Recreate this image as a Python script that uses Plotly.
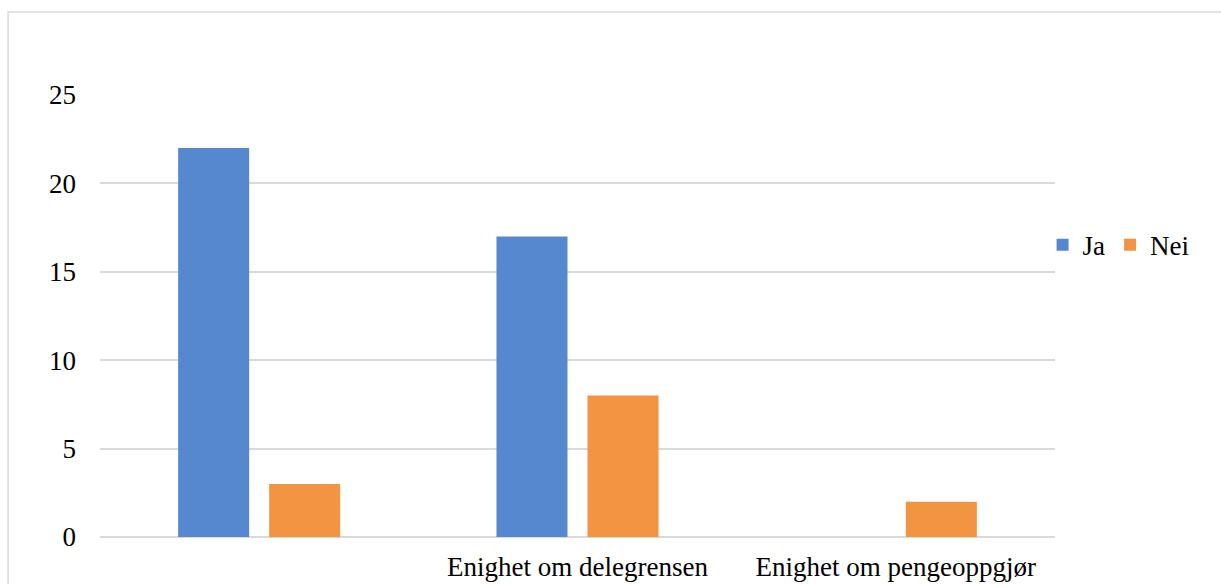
import plotly.graph_objects as go

categories = ["", "Enighet om delegrensen", "Enighet om pengeoppgjør"]
ja_values = [22, 17, 0]
nei_values = [3, 8, 2]
y_ticks = [0, 5, 10, 15, 20, 25]

FONT = "Times New Roman"

fig = go.Figure()
fig.add_trace(go.Bar(name="Ja", x=categories, y=ja_values,
                     marker=dict(color="#5688D0", line=dict(width=0))))
fig.add_trace(go.Bar(name="Nei", x=categories, y=nei_values,
                     marker=dict(color="#F29441", line=dict(width=0))))

# outer chart frame
fig.add_shape(type="rect", xref="paper", yref="paper",
              x0=-0.0963, x1=1.2, y0=-0.2, y1=1.1878,
              line=dict(color="#d9d9d9", width=1.5), fillcolor="rgba(0,0,0,0)",
              layer="below")

fig.update_layout(
    width=1221, height=584,
    margin=dict(l=100, r=166, t=95, b=47),
    plot_bgcolor="white", paper_bgcolor="white",
    barmode="group", bargap=0.428, bargroupgap=0.22,
    font=dict(family=FONT, size=27, color="#000000"),
    showlegend=True,
    legend=dict(orientation="h", x=0.987, y=0.66, xanchor="left", yanchor="middle",
                font=dict(family=FONT, size=27), itemwidth=30,
                itemsizing="constant", tracegroupgap=0),
    xaxis=dict(showgrid=False, showline=False, ticks="", ticklabelstandoff=11,
               automargin=False, tickfont=dict(family=FONT, size=27)),
    yaxis=dict(range=[0, 25], tickvals=y_ticks, showgrid=True,
               gridcolor="#d9d9d9", gridwidth=1.5, zeroline=True,
               zerolinecolor="#d9d9d9", zerolinewidth=1.5, showline=False,
               ticks="", ticklabelstandoff=23, automargin=False,
               tickfont=dict(family=FONT, size=27)),
)

fig.write_html("out.html")
